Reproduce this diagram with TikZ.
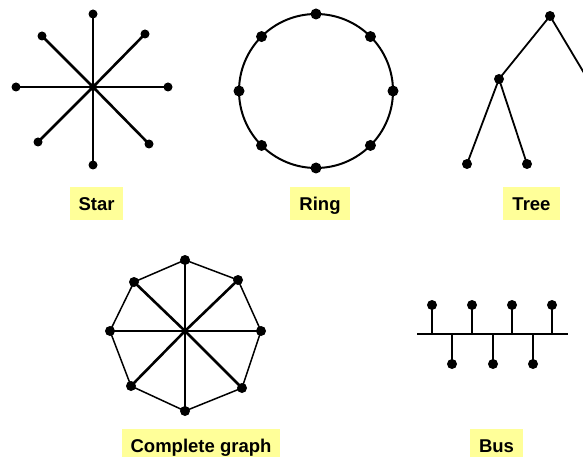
\documentclass[tikz,border=0pt]{standalone}
\usepackage{fontspec}
\setsansfont{Liberation Sans}
\definecolor{LabelYellow}{RGB}{255,255,153}
\usetikzlibrary{positioning, calc}

\tikzset{
	dot/.style={circle,fill=black,inner sep=0pt,minimum size=10pt},
	spoke/.style={line width=2.6pt},
	rim/.style={line width=1.5pt},
	topolabel/.style={fill=LabelYellow,font=\sffamily\bfseries\fontsize{18.5}{21}\selectfont,
		inner xsep=9pt,minimum height=33pt,text height=13pt,text depth=0pt},
}

\begin{document}
\begin{tikzpicture}[x=1pt,y=-1pt]
\clip (0,0) rectangle (583,457);

% star
\node[dot,minimum size=8pt] (sc) at (93,87) {};
\foreach \n/\p in {1/{93,14},2/{145,34},3/{168,87},4/{149,144},5/{93,165},6/{38,142},7/{16,87},8/{42,36}}{
	\node[dot,minimum size=9pt] (s\n) at (\p) {};
	\draw[spoke] (sc.center) -- (s\n.center);
}
\node[topolabel] (starlabel) at (96.5,203.5) {Star};

% ring
\coordinate (rc) at (316,91);
\draw[line width=2pt] (rc) circle (77pt);
\foreach \n in {0,...,7}{
	\node[dot,minimum size=11pt] (r\n) at ($(rc)+(90-45*\n:77pt)$) {};
}
\node[topolabel] (ringlabel) at (320,203.5) {Ring};

% tree
\node[dot] (troot) at (550,16) {};
\node[dot] (tmid) at (499,79) {};
\node[dot] (tleft) at (467,164) {};
\node[dot] (tright) at (527,164) {};
\coordinate (tout) at (590,83);
\draw[line width=1.8pt] (tleft.center) -- (tmid.center) -- (troot.center) -- (tout);
\draw[line width=1.8pt] (tmid.center) -- (tright.center);
\node[topolabel] (treelabel) at (531.5,203.5) {Tree};

% complete graph
\node[dot,minimum size=4pt] (kc) at (185,331) {};
\foreach \n/\p in {1/{185,260},2/{238,280},3/{261,331},4/{242,388},5/{185,411},6/{131,386},7/{110,331},8/{134,282}}{
	\node[dot] (k\n) at (\p) {};
}
\foreach \n in {1,...,8}{
	\draw[spoke] (kc.center) -- (k\n.center);
}
\draw[rim] (k1.center) -- (k2.center) -- (k3.center) -- (k4.center) -- (k5.center)
	-- (k6.center) -- (k7.center) -- (k8.center) -- cycle;
\node[topolabel] (completelabel) at (201,445.5) {Complete graph};

% bus
\coordinate (bleft) at (417,334);
\coordinate (bright) at (568,334);
\draw[line width=1.8pt] (bleft) -- (bright);
\foreach \x in {432,472,512,552}{
	\node[dot] (bu\x) at (\x,305) {};
	\draw[line width=1.8pt] (bu\x.center) -- (\x,334);
}
\foreach \x in {452,493,533}{
	\node[dot] (bd\x) at (\x,364) {};
	\draw[line width=1.8pt] (bd\x.center) -- (\x,334);
}
\node[topolabel] (buslabel) at (496.5,445.5) {Bus};
\end{tikzpicture}
\end{document}
